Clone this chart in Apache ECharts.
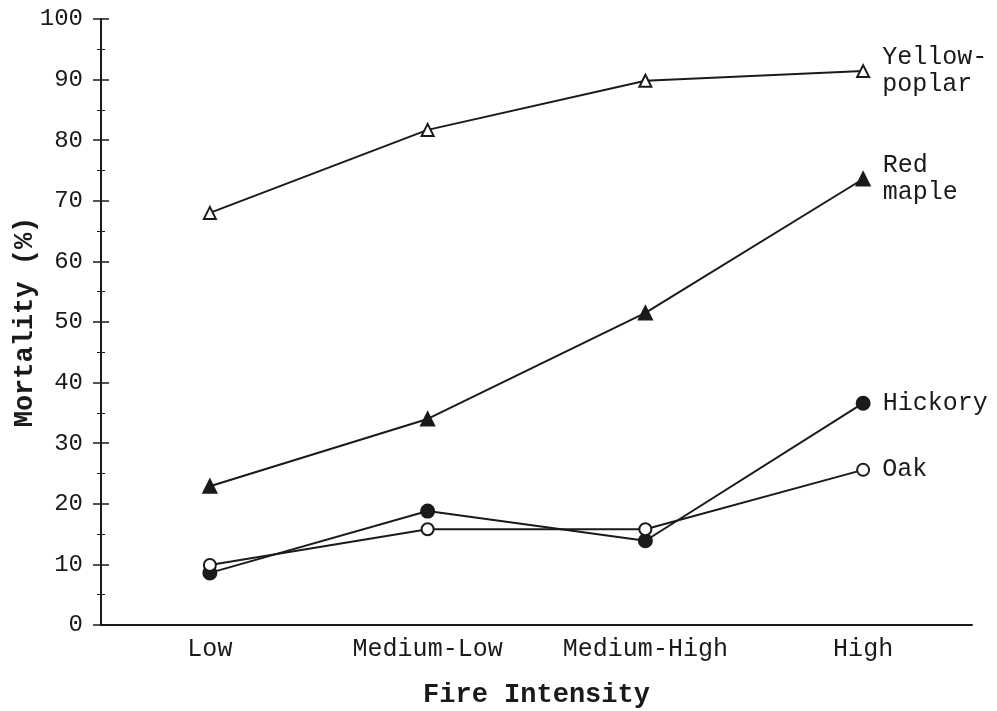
<!DOCTYPE html>
<html><head><meta charset="utf-8">
<script src="https://cdn.jsdelivr.net/npm/echarts@6/dist/echarts.min.js"></script>
<style>html,body{margin:0;padding:0;background:#fff}#c{width:997px;height:711px}</style>
</head><body><div id="c"></div>
<script>
var categories = ['Low', 'Medium-Low', 'Medium-High', 'High'];
var yellowPoplar = [68.0, 81.7, 89.8, 91.4];
var redMaple = [22.9, 34.0, 51.5, 73.6];
var hickory = [8.6, 18.8, 13.9, 36.6];
var oak = [9.9, 15.8, 15.8, 25.6];
var seriesNames = ['Yellow-\npoplar', 'Red\nmaple', 'Hickory', 'Oak'];
var yTicks = [0, 10, 20, 30, 40, 50, 60, 70, 80, 90, 100];

var FONT = 'Liberation Mono';
var INK = '#1a1a1a';

function mk(name, data, symbol, filled, size) {
  return {
    name: name, type: 'line', data: data,
    symbol: symbol, symbolSize: size,
    lineStyle: {color: INK, width: 2},
    itemStyle: {color: filled ? INK : '#fff', borderColor: INK, borderWidth: 2},
    label: {
      show: true,
      formatter: function (p) { return p.dataIndex === data.length - 1 ? name : ''; },
      position: 'right', distance: 12,
      fontFamily: FONT, fontSize: 25, color: INK, lineHeight: 27, align: 'left'
    },
    z: 3
  };
}

var chart = echarts.init(document.getElementById('c'));
chart.setOption({
  animation: false,
  backgroundColor: '#fff',
  grid: {left: 101, right: 25, top: 19, bottom: 86, containLabel: false, outerBoundsMode: 'none'},
  xAxis: {
    type: 'category', data: categories, boundaryGap: true,
    axisLine: {lineStyle: {color: INK, width: 2}},
    axisTick: {show: false},
    axisLabel: {fontFamily: FONT, fontSize: 25, color: INK, margin: 12},
    name: 'Fire Intensity', nameLocation: 'middle', nameGap: 57, nameMoveOverlap: false,
    nameTextStyle: {fontFamily: FONT, fontSize: 27, fontWeight: 'bold', color: INK}
  },
  yAxis: [{
    type: 'value', min: 0, max: 100, interval: 10,
    axisLine: {show: true, lineStyle: {color: INK, width: 2}},
    axisTick: {show: true, length: 8, lineStyle: {color: INK, width: 1.5}},
    minorTick: {show: true, splitNumber: 2, length: 4, lineStyle: {color: INK}},
    splitLine: {show: false},
    axisLabel: {fontFamily: FONT, fontSize: 24, color: INK, margin: 18,
      formatter: function (v) { return yTicks.indexOf(v) >= 0 ? String(v) : ''; }},
    name: 'Mortality (%)', nameLocation: 'middle', nameGap: 62, nameMoveOverlap: false,
    nameTextStyle: {fontFamily: FONT, fontSize: 27, fontWeight: 'bold', color: INK}
  }, {
    type: 'value', min: 0, max: 100, interval: 10, position: 'left',
    axisLine: {show: false},
    axisTick: {show: true, inside: true, length: 8, lineStyle: {color: INK, width: 1.5}},
    minorTick: {show: true, splitNumber: 2, length: 4, lineStyle: {color: INK}},
    splitLine: {show: false},
    axisLabel: {show: false}
  }],
  series: [
    mk(seriesNames[0], yellowPoplar, 'triangle', false, 12),
    mk(seriesNames[1], redMaple, 'triangle', true, 13),
    mk(seriesNames[2], hickory, 'circle', true, 13),
    mk(seriesNames[3], oak, 'circle', false, 12)
  ]
});
</script></body></html>
